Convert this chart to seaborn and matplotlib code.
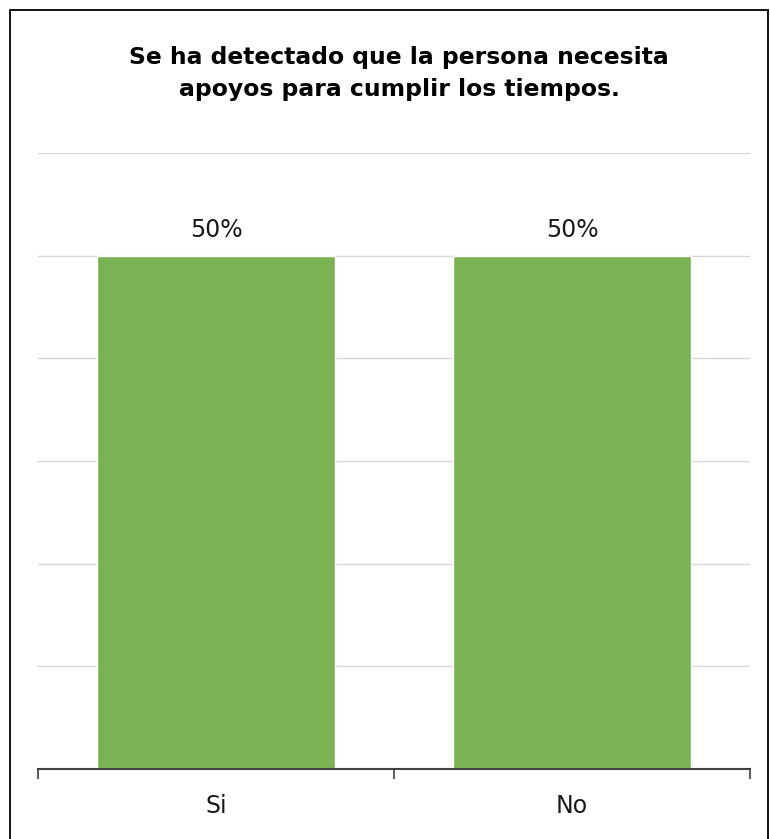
import matplotlib
matplotlib.use("Agg")
import matplotlib.pyplot as plt
import matplotlib.patches as mpatches
import seaborn as sns
import pandas as pd

categories = ["Si", "No"]
values = [0.50, 0.50]
title = "Se ha detectado que la persona necesita\napoyos para cumplir los tiempos."

sns.set_theme(style="white")
plt.rcParams["font.family"] = ["DejaVu Sans"]

W, H = 770, 839
fig = plt.figure(figsize=(W / 100, H / 100), dpi=100)

left, right, top, bottom = 38, 750, 153, 769
ax = fig.add_axes([left / W, (H - bottom) / H, (right - left) / W, (bottom - top) / H])

df = pd.DataFrame({"cat": categories, "val": values})
sns.barplot(data=df, x="cat", y="val", color="#7AB353", saturation=1,
            width=0.666, ax=ax, zorder=3)

ax.set_xlim(-0.5, len(categories) - 0.5)
ax.set_ylim(0, 0.6)
ax.set_yticks([0.1 * i for i in range(7)])
ax.yaxis.grid(True, color="#d9d9d9", linewidth=1.0, zorder=0)
ax.tick_params(axis="y", left=False, labelleft=False)
ax.set_xlabel("")
ax.set_ylabel("")

# category separators as outward ticks
ax.set_xticks([i - 0.5 for i in range(len(categories) + 1)], minor=True)
ax.tick_params(axis="x", which="minor", direction="out", length=7, width=1.2,
               color="#404040", bottom=True)
ax.tick_params(axis="x", which="major", length=0, pad=18, labelsize=17,
               labelcolor="#1a1a1a")

for s in ["top", "right", "left"]:
    ax.spines[s].set_visible(False)
ax.spines["bottom"].set_color("#404040")
ax.spines["bottom"].set_linewidth(1.5)
ax.spines["bottom"].set_zorder(4)

for i, v in enumerate(values):
    ax.annotate(f"{v:.0%}", (i, v), xytext=(0, 10), textcoords="offset points",
                ha="center", va="bottom", fontsize=17, color="#1a1a1a")

fig.text(399 / W, 1 - 73.5 / H, title, ha="center", va="center",
         fontsize=16.9, fontweight="bold", color="black", linespacing=1.5)

# outer frame of the chart area
frame = mpatches.Rectangle((9.5 / W, -0.05), (768 - 9.5) / W, (H - 9.5) / H + 0.05,
                           transform=fig.transFigure, fill=False,
                           edgecolor="black", linewidth=1.3)
fig.patches.append(frame)

fig.savefig("out.png", dpi=100, facecolor="white")
